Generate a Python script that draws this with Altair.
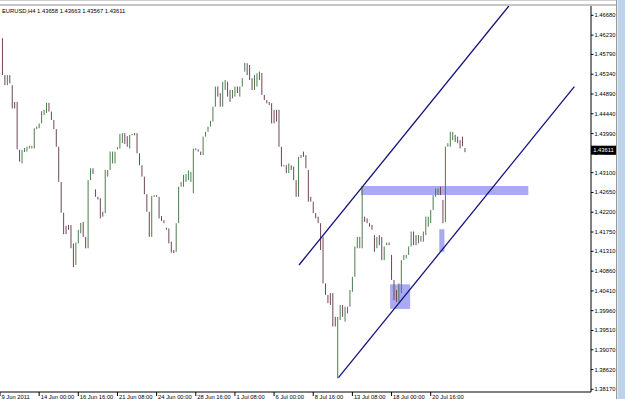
import altair as alt
import pandas as pd

# ---- price data (H4 bars) ----
high = [
    1.4616, 1.4532, 1.4532, 1.4532, 1.4509, 1.4471, 1.4471, 1.4362, 1.4362, 1.4366,
    1.4369, 1.4371, 1.4371, 1.4411, 1.4415, 1.4422, 1.4450, 1.4453, 1.4469, 1.4469,
    1.4449, 1.4430, 1.4409, 1.4369, 1.4289, 1.4219, 1.4189, 1.4191, 1.4191, 1.4149,
    1.4151, 1.4180, 1.4196, 1.4198, 1.4164, 1.4293, 1.4320, 1.4320, 1.4272, 1.4255,
    1.4252, 1.4221, 1.4316, 1.4316, 1.4358, 1.4358, 1.4358, 1.4368, 1.4398, 1.4400,
    1.4400, 1.4393, 1.4396, 1.4398, 1.4400, 1.4400, 1.4354, 1.4327, 1.4301, 1.4261,
    1.4221, 1.4257, 1.4259, 1.4259, 1.4255, 1.4211, 1.4202, 1.4185, 1.4183, 1.4153,
    1.4134, 1.4195, 1.4278, 1.4289, 1.4305, 1.4307, 1.4315, 1.4312, 1.4365, 1.4365,
    1.4363, 1.4358, 1.4392, 1.4403, 1.4415, 1.4428, 1.4460, 1.4506, 1.4506, 1.4491,
    1.4517, 1.4521, 1.4517, 1.4498, 1.4498, 1.4506, 1.4506, 1.4506, 1.4525, 1.4560,
    1.4559, 1.4555, 1.4525, 1.4532, 1.4536, 1.4540, 1.4537, 1.4487, 1.4475, 1.4471,
    1.4468, 1.4453, 1.4453, 1.4453, 1.4369, 1.4327, 1.4327, 1.4331, 1.4327, 1.4324,
    1.4293, 1.4346, 1.4350, 1.4358, 1.4350, 1.4316, 1.4255, 1.4244, 1.4218, 1.4210,
    1.4195, 1.4164, 1.4058, 1.4032, 1.4036, 1.4036, 1.3982, 1.3982, 1.4009, 1.4009,
    1.4005, 1.4005, 1.4043, 1.4073, 1.4142, 1.4164, 1.4164, 1.4274, 1.4210, 1.4206,
    1.4195, 1.4191, 1.4168, 1.4164, 1.4168, 1.4164, 1.4142, 1.4151, 1.4151, 1.4123,
    1.4066, 1.4043, 1.4058, 1.4111, 1.4123, 1.4123, 1.4142, 1.4176, 1.4176, 1.4168,
    1.4168, 1.4166, 1.4176, 1.4210, 1.4210, 1.4225, 1.4259, 1.4274, 1.4274, 1.4278,
    1.4248, 1.4369, 1.4377, 1.4403, 1.4403, 1.4396, 1.4392, 1.4384, 1.4392, 1.43663,
]
low = [
    1.4532, 1.4509, 1.4509, 1.4513, 1.4456, 1.4456, 1.4363, 1.4335, 1.4331, 1.4357,
    1.4358, 1.4365, 1.4365, 1.4365, 1.4409, 1.4411, 1.4422, 1.4441, 1.4446, 1.4449,
    1.4430, 1.4409, 1.4369, 1.4289, 1.4219, 1.4170, 1.4170, 1.4180, 1.4138, 1.4095,
    1.4100, 1.4149, 1.4172, 1.4164, 1.4138, 1.4138, 1.4293, 1.4307, 1.4255, 1.4249,
    1.4206, 1.4210, 1.4218, 1.4301, 1.4316, 1.4331, 1.4331, 1.4363, 1.4365, 1.4377,
    1.4375, 1.4369, 1.4365, 1.4395, 1.4395, 1.4354, 1.4327, 1.4301, 1.4261, 1.4221,
    1.4164, 1.4164, 1.4255, 1.4255, 1.4206, 1.4200, 1.4195, 1.4180, 1.4149, 1.4128,
    1.4127, 1.4130, 1.4195, 1.4278, 1.4278, 1.4289, 1.4293, 1.4289, 1.4263, 1.4361,
    1.4358, 1.4350, 1.4350, 1.4392, 1.4403, 1.4415, 1.4426, 1.4460, 1.4483, 1.4460,
    1.4460, 1.4498, 1.4483, 1.4471, 1.4479, 1.4483, 1.4491, 1.4483, 1.4506, 1.4540,
    1.4532, 1.4521, 1.4498, 1.4498, 1.4506, 1.4521, 1.4487, 1.4475, 1.4468, 1.4464,
    1.4422, 1.4422, 1.4426, 1.4369, 1.4324, 1.4324, 1.4309, 1.4309, 1.4316, 1.4293,
    1.4255, 1.4255, 1.4343, 1.4346, 1.4320, 1.4244, 1.4244, 1.4218, 1.4206, 1.4195,
    1.4134, 1.4058, 1.4032, 1.4013, 1.4009, 1.3960, 1.3960, 1.3842, 1.3975, 1.3982,
    1.3971, 1.3990, 1.4005, 1.4039, 1.4073, 1.4138, 1.4138, 1.4138, 1.4198, 1.4195,
    1.4187, 1.4180, 1.4130, 1.4138, 1.4145, 1.4111, 1.4111, 1.4145, 1.4145, 1.4066,
    1.4020, 1.4016, 1.4016, 1.4036, 1.4111, 1.4115, 1.4123, 1.4142, 1.4145, 1.4145,
    1.4149, 1.4153, 1.4153, 1.4168, 1.4187, 1.4195, 1.4225, 1.4255, 1.4259, 1.4259,
    1.4195, 1.4198, 1.4369, 1.4369, 1.4384, 1.4380, 1.4377, 1.4365, 1.4370, 1.43567,
]
# last bar O/H/L/C as printed in the header
last_open, last_high, last_low, last_close = 1.43658, 1.43663, 1.43567, 1.43611
symbol = "EURUSD,H4"

# time axis labels (one every 16 H4 bars)
tick_idx = [-1, 15, 31, 47, 63, 79, 95, 111, 127, 143, 159, 175]
tick_labels = ["9 Jun 2011", "14 Jun 00:00", "16 Jun 16:00", "21 Jun 08:00",
               "24 Jun 00:00", "28 Jun 16:00", "1 Jul 08:00", "6 Jul 00:00",
               "8 Jul 16:00", "13 Jul 08:00", "18 Jul 00:00", "20 Jul 16:00"]
# price axis labels
y_ticks = [1.46680, 1.46230, 1.45790, 1.45340, 1.44890, 1.44440, 1.43990, 1.43550,
           1.43100, 1.42650, 1.42200, 1.41750, 1.41310, 1.40860, 1.40410, 1.39960,
           1.39510, 1.39070, 1.38620, 1.38170]

# channel trend lines (bar index, price)
chan_id = ["upper", "upper", "lower", "lower"]
chan_i = [121.2, 207.0, 137.3, 233.7]
chan_p = [1.41000, 1.46898, 1.38435, 1.45056]

# drawn rectangles
zone_i1 = [146.5, 158.4, 178.5]
zone_i2 = [214.9, 166.6, 180.6]
zone_p1 = [1.42796, 1.40560, 1.41812]
zone_p2 = [1.42592, 1.40000, 1.41302]

# ---- derived bar direction (open ~ previous bar, close ~ next bar) ----
n = len(high)
mids = [(h + l) / 2 for h, l in zip(high, low)]


def clamp(v, lo, hi):
    return max(lo, min(hi, v))


dirs = []
for k in range(n):
    if k == n - 1:
        o, c = last_open, last_close
    else:
        o = clamp(mids[k - 1], low[k], high[k]) if k > 0 else high[k]
        c = clamp(mids[k + 1], low[k], high[k])
    dirs.append("up" if c > o else "down")

bars = pd.DataFrame({"i": list(range(n)), "high": high, "low": low, "dir": dirs})
chan = pd.DataFrame({"i": chan_i, "p": chan_p, "line": chan_id})
zones = pd.DataFrame({"i1": zone_i1, "i2": zone_i2, "p1": zone_p1, "p2": zone_p2})
tag = pd.DataFrame({"p": [last_close], "label": [f"{last_close:.5f}"]})
header = pd.DataFrame({"t": [f"{symbol}  {last_open:.5f} {last_high:.5f} {last_low:.5f} {last_close:.5f}"]})
xt = pd.DataFrame({"i": tick_idx, "label": tick_labels})
yt = pd.DataFrame({"p": y_ticks, "label": [f"{v:.5f}" for v in y_ticks]})
one = pd.DataFrame({"k": [0]})

FONT = "Liberation Sans"
FS = 5.8
W, H = 591, 386
xs = alt.Scale(domain=[-1, 240.5], nice=False, zero=False)
ys = alt.Scale(domain=[1.38110, 1.46892], nice=False, zero=False)


def X(f):
    return alt.X(f, scale=xs, axis=None)


def Y(f):
    return alt.Y(f, scale=ys, axis=None)


zone_layer = alt.Chart(zones).mark_rect(color="#aaaaf2", clip=True).encode(
    x=X("i1:Q"), x2="i2:Q", y=Y("p1:Q"), y2="p2:Q",
)

bar_layer = alt.Chart(bars).mark_rule(strokeWidth=1).encode(
    x=X("i:Q"), y=Y("high:Q"), y2="low:Q",
    color=alt.Color("dir:N", scale=alt.Scale(domain=["up", "down"],
                                             range=["#4c7c4c", "#6e4658"]), legend=None),
)

chan_layer = alt.Chart(chan).mark_line(color="#14147e", strokeWidth=1.3, clip=True).encode(
    x=X("i:Q"), y=Y("p:Q"), detail="line:N",
)

# axes drawn by hand (MetaTrader style)
x_domain = alt.Chart(one).mark_rule(color="#000000", strokeWidth=1).encode(
    x=alt.value(0), x2=alt.value(W), y=alt.value(H))
y_domain = alt.Chart(one).mark_rule(color="#000000", strokeWidth=1).encode(
    x=alt.value(W), y=alt.value(0), y2=alt.value(H))
x_ticks = alt.Chart(xt).mark_rule(color="#000000", strokeWidth=1).encode(
    x=X("i:Q"), y=alt.value(H), y2=alt.value(H + 4))
x_labels = alt.Chart(xt).mark_text(
    color="#000000", fontSize=FS, font=FONT, align="left", baseline="top", dx=1.5,
).encode(x=X("i:Q"), y=alt.value(H + 1.5), text="label:N")
y_tickmarks = alt.Chart(yt).mark_rule(color="#000000", strokeWidth=1).encode(
    x=alt.value(W), x2=alt.value(W + 2.5), y=Y("p:Q"))
y_labels = alt.Chart(yt).mark_text(
    color="#000000", fontSize=FS, font=FONT, align="left", baseline="middle",
).encode(x=alt.value(W + 3.5), y=Y("p:Q"), text="label:N")

tag_box = alt.Chart(tag).mark_point(
    shape="M-1,-0.36L1,-0.36L1,0.36L-1,0.36Z", filled=True, color="#000000",
    size=625, opacity=1, strokeWidth=0,
).encode(x=alt.value(603.5), y=Y("p:Q"))

tag_text = alt.Chart(tag).mark_text(
    color="#ffffff", fontSize=FS, font=FONT, align="center", baseline="middle",
).encode(x=alt.value(603.5), y=Y("p:Q"), text="label:N")

header_layer = alt.Chart(header).mark_text(
    color="#000000", fontSize=FS, font=FONT, align="left", baseline="middle",
).encode(x=alt.value(2), y=alt.value(4.5), text="t:N")

# window chrome around the chart
top_line = alt.Chart(one).mark_rule(color="#8c8c8c", strokeWidth=1).encode(
    x=alt.value(0), x2=alt.value(616), y=alt.value(-1))
top_line2 = alt.Chart(one).mark_rule(color="#d0d0d0", strokeWidth=1).encode(
    x=alt.value(0), x2=alt.value(616), y=alt.value(-5.5))
right_band = alt.Chart(one).mark_rect(color="#bcd3ea").encode(
    x=alt.value(617.5), x2=alt.value(625), y=alt.value(-6), y2=alt.value(393))
right_line = alt.Chart(one).mark_rule(color="#9a9a9a", strokeWidth=1).encode(
    x=alt.value(616.5), y=alt.value(-6), y2=alt.value(393))

chart = alt.layer(
    zone_layer, bar_layer, chan_layer,
    x_domain, y_domain, x_ticks, x_labels, y_tickmarks, y_labels,
    tag_box, tag_text, header_layer,
    top_line, top_line2, right_band, right_line,
).properties(
    width=W, height=H,
    autosize=alt.AutoSizeParams(type="none"),
    padding={"left": 0, "top": 6, "right": 34, "bottom": 7},
    background="#ffffff",
).configure_view(stroke=None)

chart.save("out.html", embed_options={"renderer": "svg", "actions": False})
